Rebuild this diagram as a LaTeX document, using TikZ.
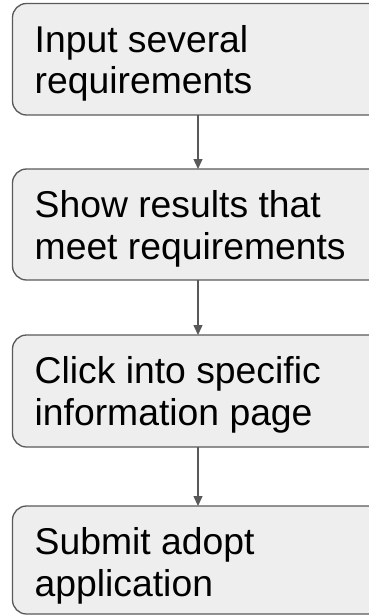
\documentclass[tikz,border=0pt]{standalone}
\usepackage{fontspec}
\setmainfont{Liberation Sans}
\usetikzlibrary{arrows.meta}
\definecolor{boxfill}{HTML}{EEEEEE}
\definecolor{edge}{HTML}{595959}
\begin{document}
\begin{tikzpicture}[x=1pt,y=-1pt,
  stepbox/.style={draw=edge, fill=boxfill, line width=1.3pt, rounded corners=14pt,
    minimum width=371pt, inner sep=0pt, outer sep=0pt, anchor=north west},
  steptext/.style={anchor=north west, inner sep=0pt, align=left,
    font=\fontsize{37.3pt}{41.5pt}\selectfont},
  flow/.style={draw=edge, line width=1.3pt, -{Triangle[width=9pt,length=10pt]}}]
\useasboundingbox (0,0) rectangle (369,615);
\clip (0,0) rectangle (369,615);

% process steps
\node[stepbox, minimum height=111.5pt] (b1) at (12.5,3.5) {};
\node[stepbox, minimum height=111pt]   (b2) at (12.5,169) {};
\node[stepbox, minimum height=112pt]   (b3) at (12.5,335) {};
\node[stepbox, minimum height=108pt]   (b4) at (12.5,506) {};

% step captions
\node[steptext] (t1) at ([shift={(22,21.5)}]b1.north west) {Input several\\requirements};
\node[steptext] (t2) at ([shift={(22,21.5)}]b2.north west) {Show results that\\meet requirements};
\node[steptext] (t3) at ([shift={(22,21.5)}]b3.north west) {Click into specific\\information page};
\node[steptext] (t4) at ([shift={(22,21.5)}]b4.north west) {Submit adopt\\application};

% flow between steps
\draw[flow] (b1.south) -- (b2.north);
\draw[flow] (b2.south) -- (b3.north);
\draw[flow] (b3.south) -- (b4.north);
\end{tikzpicture}
\end{document}
